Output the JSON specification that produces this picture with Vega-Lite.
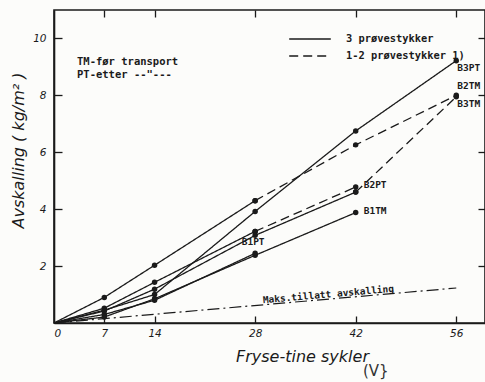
{
  "$schema": "https://vega.github.io/schema/vega-lite/v6.json",
  "width": 431,
  "height": 313,
  "autosize": {"type": "none"},
  "padding": {"left": 54, "top": 10, "right": 0, "bottom": 59},
  "background": "#fcfcfa",
  "config": {
    "view": {"stroke": "#1a1a1a", "strokeWidth": 1.6},
    "axis": {
      "grid": false,
      "domainColor": "#1a1a1a",
      "domainWidth": 1.6,
      "tickColor": "#1a1a1a",
      "tickWidth": 1.3,
      "labelFont": "DejaVu Sans",
      "labelFontStyle": "italic",
      "labelFontSize": 10.5,
      "labelColor": "#1a1a1a",
      "titleFont": "DejaVu Sans",
      "titleFontStyle": "italic",
      "titleFontWeight": "normal",
      "titleFontSize": 16,
      "titleColor": "#1a1a1a"
    }
  },
  "datasets": {
    "curves": [
      {"serie": "B3PT", "segment": "B3PT", "specimens": "3 prøvestykker", "cycles": 0, "avskalling": 0},
      {"serie": "B3PT", "segment": "B3PT", "specimens": "3 prøvestykker", "cycles": 7, "avskalling": 0.45},
      {"serie": "B3PT", "segment": "B3PT", "specimens": "3 prøvestykker", "cycles": 14, "avskalling": 1.0},
      {"serie": "B3PT", "segment": "B3PT", "specimens": "3 prøvestykker", "cycles": 28, "avskalling": 3.92},
      {"serie": "B3PT", "segment": "B3PT", "specimens": "3 prøvestykker", "cycles": 42, "avskalling": 6.75},
      {"serie": "B3PT", "segment": "B3PT", "specimens": "3 prøvestykker", "cycles": 56, "avskalling": 9.22},

      {"serie": "B2TM", "segment": "B2TM-3", "specimens": "3 prøvestykker", "cycles": 0, "avskalling": 0},
      {"serie": "B2TM", "segment": "B2TM-3", "specimens": "3 prøvestykker", "cycles": 7, "avskalling": 0.9},
      {"serie": "B2TM", "segment": "B2TM-3", "specimens": "3 prøvestykker", "cycles": 14, "avskalling": 2.03},
      {"serie": "B2TM", "segment": "B2TM-3", "specimens": "3 prøvestykker", "cycles": 28, "avskalling": 4.3},
      {"serie": "B2TM", "segment": "B2TM-12", "specimens": "1-2 prøvestykker 1)", "cycles": 28, "avskalling": 4.3},
      {"serie": "B2TM", "segment": "B2TM-12", "specimens": "1-2 prøvestykker 1)", "cycles": 42, "avskalling": 6.26},
      {"serie": "B2TM", "segment": "B2TM-12", "specimens": "1-2 prøvestykker 1)", "cycles": 56, "avskalling": 8.0},

      {"serie": "B2PT", "segment": "B2PT-3", "specimens": "3 prøvestykker", "cycles": 0, "avskalling": 0},
      {"serie": "B2PT", "segment": "B2PT-3", "specimens": "3 prøvestykker", "cycles": 7, "avskalling": 0.52},
      {"serie": "B2PT", "segment": "B2PT-3", "specimens": "3 prøvestykker", "cycles": 14, "avskalling": 1.43},
      {"serie": "B2PT", "segment": "B2PT-3", "specimens": "3 prøvestykker", "cycles": 28, "avskalling": 3.22},
      {"serie": "B2PT", "segment": "B2PT-12", "specimens": "1-2 prøvestykker 1)", "cycles": 28, "avskalling": 3.22},
      {"serie": "B2PT", "segment": "B2PT-12", "specimens": "1-2 prøvestykker 1)", "cycles": 42, "avskalling": 4.78},

      {"serie": "B3TM", "segment": "B3TM-3", "specimens": "3 prøvestykker", "cycles": 0, "avskalling": 0},
      {"serie": "B3TM", "segment": "B3TM-3", "specimens": "3 prøvestykker", "cycles": 7, "avskalling": 0.42},
      {"serie": "B3TM", "segment": "B3TM-3", "specimens": "3 prøvestykker", "cycles": 14, "avskalling": 1.19},
      {"serie": "B3TM", "segment": "B3TM-3", "specimens": "3 prøvestykker", "cycles": 28, "avskalling": 3.08},
      {"serie": "B3TM", "segment": "B3TM-3", "specimens": "3 prøvestykker", "cycles": 42, "avskalling": 4.6},
      {"serie": "B3TM", "segment": "B3TM-12", "specimens": "1-2 prøvestykker 1)", "cycles": 42, "avskalling": 4.6},
      {"serie": "B3TM", "segment": "B3TM-12", "specimens": "1-2 prøvestykker 1)", "cycles": 56, "avskalling": 7.95},

      {"serie": "B1TM", "segment": "B1TM", "specimens": "3 prøvestykker", "cycles": 0, "avskalling": 0},
      {"serie": "B1TM", "segment": "B1TM", "specimens": "3 prøvestykker", "cycles": 7, "avskalling": 0.21},
      {"serie": "B1TM", "segment": "B1TM", "specimens": "3 prøvestykker", "cycles": 14, "avskalling": 0.85},
      {"serie": "B1TM", "segment": "B1TM", "specimens": "3 prøvestykker", "cycles": 28, "avskalling": 2.38},
      {"serie": "B1TM", "segment": "B1TM", "specimens": "3 prøvestykker", "cycles": 42, "avskalling": 3.88},

      {"serie": "B1PT", "segment": "B1PT", "specimens": "3 prøvestykker", "cycles": 0, "avskalling": 0},
      {"serie": "B1PT", "segment": "B1PT", "specimens": "3 prøvestykker", "cycles": 7, "avskalling": 0.3},
      {"serie": "B1PT", "segment": "B1PT", "specimens": "3 prøvestykker", "cycles": 14, "avskalling": 0.8},
      {"serie": "B1PT", "segment": "B1PT", "specimens": "3 prøvestykker", "cycles": 28, "avskalling": 2.45}
    ],
    "limit": [
      {"cycles": 0, "avskalling": 0},
      {"cycles": 56, "avskalling": 1.23}
    ],
    "endLabels": [
      {"serie": "B3PT", "cycles": 56, "avskalling": 9.22},
      {"serie": "B2TM", "cycles": 56, "avskalling": 8.0},
      {"serie": "B3TM", "cycles": 56, "avskalling": 7.95},
      {"serie": "B2PT", "cycles": 42, "avskalling": 4.78},
      {"serie": "B1TM", "cycles": 42, "avskalling": 3.88},
      {"serie": "B1PT", "cycles": 28, "avskalling": 2.45}
    ],
    "notes": [
      {"note": "TM-før transport", "cycles": 3.2, "avskalling": 9.17},
      {"note": "PT-etter --\"---", "cycles": 3.2, "avskalling": 8.72}
    ],
    "limitNote": [
      {"note": "Maks.tillatt avskalling", "cycles": 38.2, "avskalling": 1.0}
    ],
    "mark": [
      {"note": "(V}", "cycles": 44.8, "avskalling": -1.7}
    ]
  },
  "resolve": {"axis": {"x": "independent", "y": "independent"}},
  "layer": [
    {
      "data": {"name": "limit"},
      "mark": {"type": "line", "color": "#1a1a1a", "strokeWidth": 1.2, "strokeDash": [12, 4, 2, 4]},
      "encoding": {
        "x": {"field": "cycles", "type": "quantitative", "scale": {"domain": [0, 60], "nice": false},
          "axis": {"orient": "top", "values": [7, 14, 28, 42, 56], "labels": false, "domain": false, "tickSize": 7, "offset": -7, "title": null}},
        "y": {"field": "avskalling", "type": "quantitative", "scale": {"domain": [0, 11], "nice": false},
          "axis": {"orient": "right", "values": [2, 4, 6, 8, 10], "labels": false, "domain": false, "tickSize": 7, "offset": -7, "title": null}}
      }
    },
    {
      "data": {"name": "curves"},
      "mark": {"type": "line", "color": "#1a1a1a", "strokeWidth": 1.3},
      "encoding": {
        "x": {"field": "cycles", "type": "quantitative",
          "axis": {"orient": "bottom", "values": [0, 7, 14, 28, 42, 56], "ticks": false, "labelPadding": 5,
            "title": "Fryse-tine sykler", "titleX": 248, "titlePadding": 10}},
        "y": {"field": "avskalling", "type": "quantitative",
          "axis": {"orient": "left", "values": [2, 4, 6, 8, 10], "ticks": false, "labelPadding": 8,
            "title": "Avskalling ( kg/m² )", "titleY": 140, "titlePadding": 6}},
        "detail": {"field": "segment"},
        "strokeDash": {"field": "specimens", "type": "nominal",
          "scale": {"domain": ["3 prøvestykker", "1-2 prøvestykker 1)"], "range": [[1, 0], [9, 5]]},
          "legend": {"orient": "none", "legendX": 247, "legendY": 20, "title": null,
            "symbolType": "M-2.6,0H2.6", "symbolSize": 256, "symbolStrokeWidth": 1.4,
            "symbolStrokeColor": "#1a1a1a", "symbolFillColor": "transparent",
            "labelFont": "DejaVu Sans Mono", "labelFontSize": 10.4, "labelFontWeight": "bold", "labelColor": "#1a1a1a",
            "rowPadding": 2, "labelOffset": 27}}
      }
    },
    {
      "data": {"name": "curves"},
      "transform": [{"filter": "datum.cycles > 0"}],
      "mark": {"type": "circle", "color": "#1a1a1a", "size": 30, "opacity": 1},
      "encoding": {
        "x": {"field": "cycles", "type": "quantitative",
          "axis": {"orient": "bottom", "values": [7, 14, 28, 42, 56], "labels": false, "domain": false, "tickSize": 7, "offset": -7, "title": null}},
        "y": {"field": "avskalling", "type": "quantitative",
          "axis": {"orient": "left", "values": [2, 4, 6, 8, 10], "labels": false, "domain": false, "tickSize": 8, "offset": -8, "title": null}}
      }
    },
    {
      "data": {"name": "endLabels"},
      "transform": [{"filter": "datum.serie === 'B3PT' || datum.serie === 'B3TM'"}],
      "mark": {"type": "text", "align": "left", "baseline": "middle", "dx": 1, "dy": 7, "font": "DejaVu Sans Mono", "fontSize": 9.5, "fontWeight": "bold", "color": "#1a1a1a"},
      "encoding": {
        "x": {"field": "cycles", "type": "quantitative", "axis": null},
        "y": {"field": "avskalling", "type": "quantitative", "axis": null},
        "text": {"field": "serie"}
      }
    },
    {
      "data": {"name": "endLabels"},
      "transform": [{"filter": "datum.serie === 'B2TM'"}],
      "mark": {"type": "text", "align": "left", "baseline": "middle", "dx": 1, "dy": -9, "font": "DejaVu Sans Mono", "fontSize": 9.5, "fontWeight": "bold", "color": "#1a1a1a"},
      "encoding": {
        "x": {"field": "cycles", "type": "quantitative", "axis": null},
        "y": {"field": "avskalling", "type": "quantitative", "axis": null},
        "text": {"field": "serie"}
      }
    },
    {
      "data": {"name": "endLabels"},
      "transform": [{"filter": "datum.serie === 'B2PT' || datum.serie === 'B1TM'"}],
      "mark": {"type": "text", "align": "left", "baseline": "middle", "dx": 8, "dy": -2, "font": "DejaVu Sans Mono", "fontSize": 9.5, "fontWeight": "bold", "color": "#1a1a1a"},
      "encoding": {
        "x": {"field": "cycles", "type": "quantitative", "axis": null},
        "y": {"field": "avskalling", "type": "quantitative", "axis": null},
        "text": {"field": "serie"}
      }
    },
    {
      "data": {"name": "endLabels"},
      "transform": [{"filter": "datum.serie === 'B1PT'"}],
      "mark": {"type": "text", "align": "center", "baseline": "middle", "dx": -2, "dy": -11, "font": "DejaVu Sans Mono", "fontSize": 9.5, "fontWeight": "bold", "color": "#1a1a1a"},
      "encoding": {
        "x": {"field": "cycles", "type": "quantitative", "axis": null},
        "y": {"field": "avskalling", "type": "quantitative", "axis": null},
        "text": {"field": "serie"}
      }
    },
    {
      "data": {"name": "notes"},
      "mark": {"type": "text", "align": "left", "baseline": "middle", "font": "DejaVu Sans Mono", "fontSize": 10.5, "fontWeight": "bold", "color": "#1a1a1a"},
      "encoding": {
        "x": {"field": "cycles", "type": "quantitative", "axis": null},
        "y": {"field": "avskalling", "type": "quantitative", "axis": null},
        "text": {"field": "note"}
      }
    },
    {
      "data": {"name": "limitNote"},
      "mark": {"type": "text", "align": "center", "baseline": "middle", "angle": -5, "font": "DejaVu Sans Mono", "fontSize": 9.5, "fontWeight": "bold", "color": "#1a1a1a"},
      "encoding": {
        "x": {"field": "cycles", "type": "quantitative", "axis": null},
        "y": {"field": "avskalling", "type": "quantitative", "axis": null},
        "text": {"field": "note"}
      }
    },
    {
      "data": {"name": "mark"},
      "mark": {"type": "text", "align": "center", "baseline": "middle", "font": "DejaVu Sans", "fontSize": 15, "color": "#333333"},
      "encoding": {
        "x": {"field": "cycles", "type": "quantitative", "axis": null},
        "y": {"field": "avskalling", "type": "quantitative", "axis": null},
        "text": {"field": "note"}
      }
    }
  ]
}
